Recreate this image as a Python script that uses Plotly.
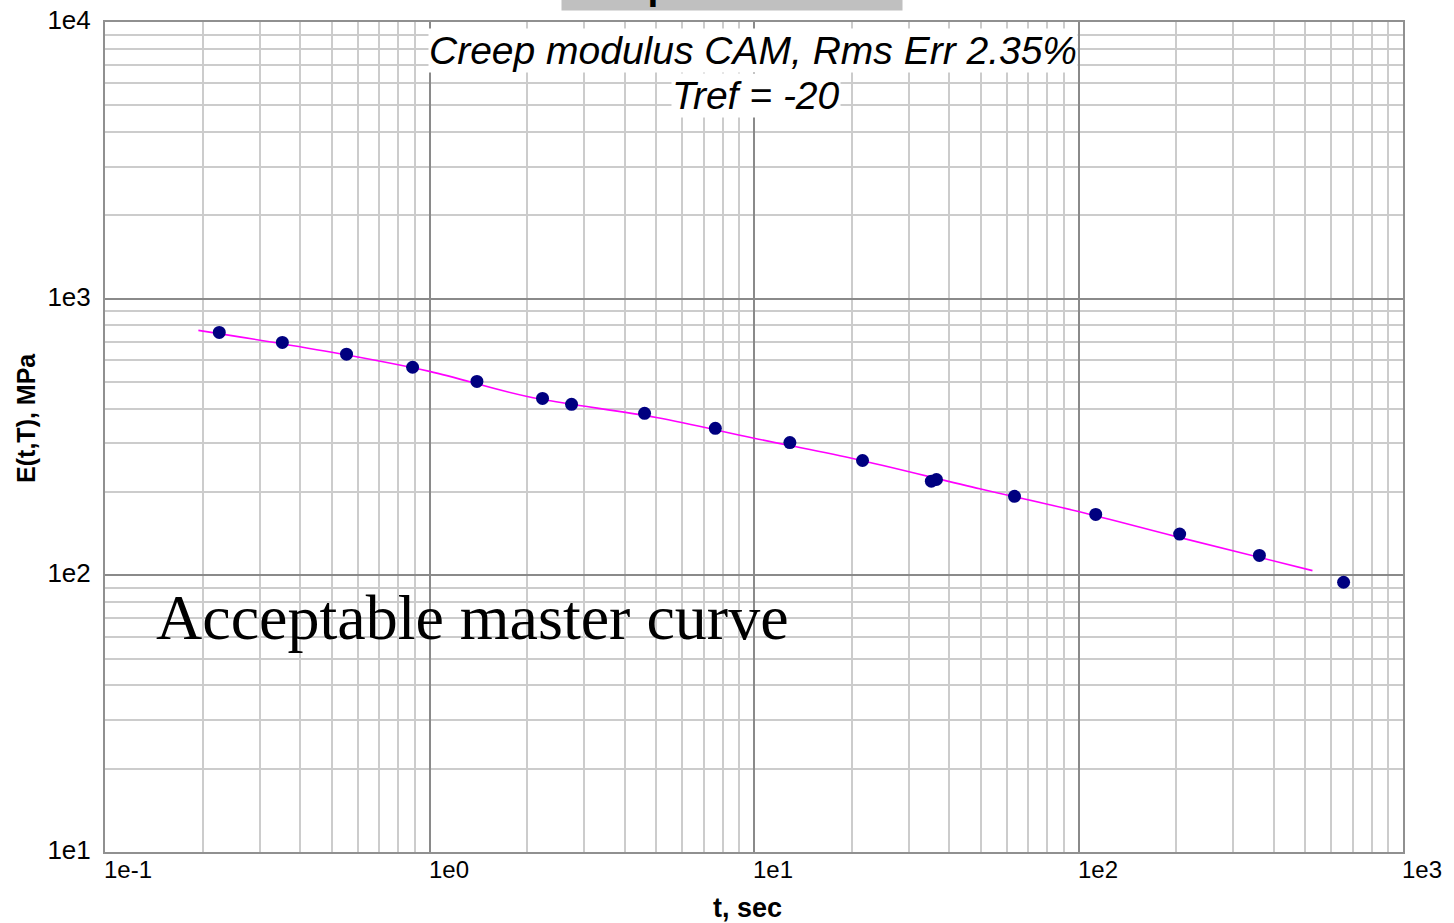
import math
import plotly.graph_objects as go

# Measured creep modulus points (time in s, modulus in MPa)
t_data = [0.225, 0.352, 0.555, 0.887, 1.40, 2.23, 2.74, 4.60, 7.60, 12.9,
          21.6, 35.2, 36.5, 63.5, 113, 205, 361, 656]
e_data = [755, 695, 630, 565, 502, 436, 415, 385, 340, 302,
          260, 219, 222, 193, 166, 141, 118, 94.4]

# Fitted CAM master curve
t_fit = [0.194, 0.5, 1, 2, 5, 10, 20, 50, 100, 200, 526]
e_fit = [768, 640, 546, 443, 372, 313, 265, 205, 170, 138, 104]

x_ticks = [0.1, 1, 10, 100, 1000]
x_tick_text = ["1e-1", "1e0", "1e1", "1e2", "1e3"]
y_ticks = [10, 100, 1000, 10000]
y_tick_text = ["1e1", "1e2", "1e3", "1e4"]

minor_x = [m * 10 ** d for d in range(-1, 3) for m in range(2, 10)]
minor_y = [m * 10 ** d for d in range(1, 4) for m in range(2, 10)]

SANS = "Liberation Sans, Arial, sans-serif"

fig = go.Figure()
fig.add_trace(go.Scatter(
    x=t_fit, y=e_fit, mode="lines",
    line=dict(color="#ff00ff", width=1.6, shape="spline"),
    hoverinfo="skip", showlegend=False))
fig.add_trace(go.Scatter(
    x=t_data, y=e_data, mode="markers",
    marker=dict(color="#000080", size=13),
    showlegend=False))

fig.update_xaxes(
    type="log", range=[-1, 3], automargin=False,
    tickvals=x_ticks, showticklabels=False, ticks="",
    showgrid=True, gridcolor="#8a8a8a", gridwidth=1.5,
    minor=dict(tickvals=minor_x, showgrid=True, gridcolor="#cccccc", gridwidth=1.8),
    showline=True, linecolor="#909090", linewidth=2, mirror=True,
    zeroline=False,
)
fig.update_yaxes(
    type="log", range=[1, 4], automargin=False,
    tickvals=y_ticks, ticktext=y_tick_text,
    tickfont=dict(family=SANS, size=26, color="#000"),
    ticklabelshift=-2, ticks="", ticklabelstandoff=7,
    showgrid=True, gridcolor="#8a8a8a", gridwidth=1.5,
    minor=dict(tickvals=minor_y, showgrid=True, gridcolor="#cccccc", gridwidth=1.8),
    showline=True, linecolor="#909090", linewidth=2, mirror=True,
    zeroline=False,
)

# Time-axis labels sit just right of each decade line
for val, txt in zip(x_ticks, x_tick_text):
    fig.add_annotation(
        text=txt, xref="x", yref="paper", x=math.log10(val), y=0,
        xanchor="left", yanchor="middle", yshift=-17, xshift=-3,
        showarrow=False, font=dict(family=SANS, size=24, color="#000"))

# Axis titles
fig.add_annotation(
    text="<b>t, sec</b>", xref="paper", yref="paper",
    x=0.495, y=0, yshift=-56, xanchor="center", yanchor="middle", showarrow=False,
    font=dict(family=SANS, size=27, color="#000"))
fig.add_annotation(
    text="<b>E(t,T), MPa</b>", xref="paper", yref="paper",
    x=0, xshift=-79, y=0.523, xanchor="center", yanchor="middle", showarrow=False,
    textangle=-90, font=dict(family=SANS, size=25, color="#000"))

title_font = dict(family=SANS, size=39, color="#000")
fig.add_annotation(
    text="<i>Creep modulus CAM, Rms Err 2.35%</i>", xref="paper", yref="paper",
    x=0.4995, y=0.966, xanchor="center", yanchor="middle", showarrow=False,
    font=title_font, bgcolor="#ffffff", borderpad=0)
fig.add_annotation(
    text="<i>Tref = -20</i>", xref="paper", yref="paper",
    x=0.5015, y=0.911, xanchor="center", yanchor="middle", showarrow=False,
    font=title_font, bgcolor="#ffffff", borderpad=0)

# Sample header box, mostly above the visible page
fig.add_annotation(
    text="<b>Sample ID: 2-0202</b>", xref="paper", yref="paper",
    x=0.483, y=1.0, xanchor="center", yanchor="bottom", yshift=11,
    showarrow=False, bgcolor="#c0c0c0", borderpad=3,
    font=dict(family=SANS, size=39, color="#000"))

fig.add_annotation(
    text="Acceptable master curve", xref="paper", yref="paper",
    x=0.038, y=0.283, xanchor="left", yanchor="middle", showarrow=False,
    font=dict(family="Liberation Serif, Times New Roman, serif", size=64, color="#000"))

fig.update_layout(
    width=1454, height=923,
    margin=dict(l=105, r=51, t=22, b=71, autoexpand=False),
    paper_bgcolor="#ffffff", plot_bgcolor="#ffffff",
)

fig.write_html("out.html")
